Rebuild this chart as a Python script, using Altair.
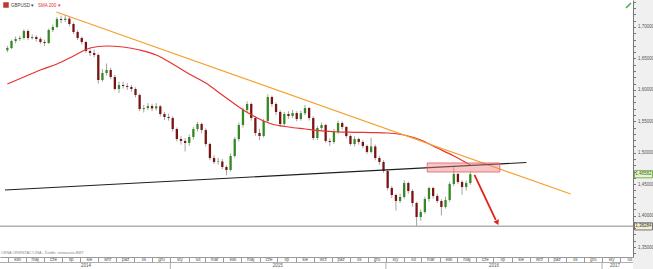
import altair as alt
import pandas as pd

# ---------------- data ----------------
week_start = "2014-03-31"
first_open = 1.6630
closes = [
    1.6666, 1.6777, 1.6809, 1.6825, 1.6936, 1.6825, 1.6841, 1.6809, 1.6761, 1.6745,
    1.6952, 1.7000, 1.7127, 1.7111, 1.7133, 1.7048, 1.6920, 1.6825, 1.6761, 1.6618,
    1.6586, 1.6555, 1.6157, 1.6268, 1.6316, 1.6205, 1.6014, 1.6077, 1.6061, 1.6046,
    1.6014, 1.5918, 1.5696, 1.5711, 1.5743, 1.5705, 1.5738, 1.5616, 1.5568, 1.5552,
    1.5377, 1.5218, 1.5187, 1.5155, 1.5250, 1.5377, 1.5457, 1.5361, 1.5139, 1.4916,
    1.4852, 1.4860, 1.4773, 1.4725, 1.4948, 1.5218, 1.5441, 1.5680, 1.5775, 1.5552,
    1.5314, 1.5266, 1.5505, 1.5886, 1.5775, 1.5648, 1.5457, 1.5616, 1.5584, 1.5632,
    1.5536, 1.5628, 1.5711, 1.5552, 1.5234, 1.5393, 1.5441, 1.5187, 1.5171, 1.5330,
    1.5473, 1.5409, 1.5266, 1.5139, 1.5218, 1.5171, 1.5107, 1.5012, 1.5100, 1.4916,
    1.4852, 1.4709, 1.4439, 1.4327, 1.4232, 1.4296, 1.4518, 1.4391, 1.4200, 1.3977,
    1.4057, 1.4264, 1.4439, 1.4312, 1.4232, 1.4137, 1.4248, 1.4502, 1.4662, 1.4534,
    1.4455, 1.4518, 1.4658,
]
highs = [
    1.6700, 1.6800, 1.6850, 1.6860, 1.6965, 1.6960, 1.6880, 1.6870, 1.6840, 1.6800,
    1.6975, 1.7040, 1.7160, 1.7180, 1.7190, 1.7160, 1.7070, 1.6950, 1.6850, 1.6780,
    1.6660, 1.6640, 1.6580, 1.6330, 1.6420, 1.6350, 1.6240, 1.6130, 1.6130, 1.6110,
    1.6080, 1.6040, 1.5940, 1.5760, 1.5790, 1.5780, 1.5790, 1.5760, 1.5650, 1.5620,
    1.5580, 1.5400, 1.5260, 1.5230, 1.5290, 1.5410, 1.5490, 1.5480, 1.5390, 1.5160,
    1.4960, 1.4920, 1.4900, 1.4800, 1.4990, 1.5250, 1.5480, 1.5720, 1.5815, 1.5800,
    1.5580, 1.5380, 1.5540, 1.5930, 1.5910, 1.5800, 1.5680, 1.5650, 1.5660, 1.5680,
    1.5660, 1.5670, 1.5760, 1.5730, 1.5580, 1.5430, 1.5480, 1.5460, 1.5230, 1.5380,
    1.5510, 1.5500, 1.5430, 1.5290, 1.5260, 1.5240, 1.5200, 1.5130, 1.5240, 1.5130,
    1.4950, 1.4880, 1.4740, 1.4470, 1.4350, 1.4350, 1.4560, 1.4540, 1.4420, 1.4220,
    1.4100, 1.4300, 1.4460, 1.4460, 1.4350, 1.4260, 1.4300, 1.4540, 1.4770, 1.4680,
    1.4560, 1.4560, 1.4700,
]
lows = [
    1.6600, 1.6650, 1.6740, 1.6780, 1.6800, 1.6790, 1.6800, 1.6770, 1.6730, 1.6695,
    1.6730, 1.6920, 1.6980, 1.7060, 1.7080, 1.7010, 1.6890, 1.6790, 1.6720, 1.6590,
    1.6540, 1.6520, 1.6100, 1.6130, 1.6230, 1.6170, 1.5990, 1.5950, 1.6020, 1.6000,
    1.5970, 1.5880, 1.5660, 1.5640, 1.5680, 1.5660, 1.5670, 1.5580, 1.5520, 1.5510,
    1.5340, 1.5180, 1.5130, 1.5020, 1.5110, 1.5210, 1.5340, 1.5310, 1.5100, 1.4880,
    1.4820, 1.4810, 1.4740, 1.4640, 1.4700, 1.4920, 1.5180, 1.5400, 1.5630, 1.5510,
    1.5270, 1.5200, 1.5240, 1.5480, 1.5730, 1.5600, 1.5410, 1.5420, 1.5540, 1.5550,
    1.5500, 1.5510, 1.5600, 1.5510, 1.5200, 1.5200, 1.5360, 1.5160, 1.5110, 1.5140,
    1.5300, 1.5370, 1.5230, 1.5110, 1.5100, 1.5130, 1.5070, 1.4980, 1.4990, 1.4880,
    1.4810, 1.4680, 1.4400, 1.4280, 1.4080, 1.4200, 1.4270, 1.4350, 1.4140, 1.3836,
    1.3920, 1.4030, 1.4220, 1.4270, 1.4200, 1.4000, 1.4110, 1.4220, 1.4470, 1.4500,
    1.4330, 1.4400, 1.4490,
]
sma_200 = [
    1.6093, 1.6205, 1.6316, 1.6411, 1.6539, 1.6666, 1.6698, 1.6682, 1.6634, 1.6555,
    1.6411, 1.6252, 1.6109, 1.5918, 1.5727, 1.5568, 1.5457, 1.5409, 1.5377, 1.5346,
    1.5330, 1.5325, 1.5320, 1.5314, 1.5282, 1.5202, 1.5075, 1.4948, 1.4805,
]
resist_dates = ["2014-06-22", "2016-11-09"]
resist_prices = [1.7239, 1.4343]
support_dates = ["2014-03-27", "2016-08-26"]
support_prices = [1.4407, 1.4844]
low_level = 1.38284
last_price = 1.46582
zone_dates = ["2016-03-11", "2016-07-12"]
zone_prices = [1.4837, 1.4693]
arrow_dates = ["2016-05-30", "2016-07-05"]
arrow_prices = [1.4646, 1.3930]
arrow_tip_date = ["2016-07-07"]
arrow_tip_price = [1.3898]
year_labels = ["2014", "2015", "2016", "2017"]
year_mid_dates = ["2014-08-11", "2015-07-02", "2016-07-02", "2017-01-23"]
year_starts = ["2015-01-01", "2016-01-01", "2017-01-01"]
month_names = ["sty", "lut", "mar", "kwi", "maj", "cze", "lip", "sie", "wrz", "paź", "lis", "gru"]

# ---------------- tables ----------------
dates = pd.date_range(week_start, periods=len(closes), freq="7D")
opens = [first_open] + closes[:-1]
candles = pd.DataFrame({
    "date": dates.strftime("%Y-%m-%d"),
    "open": opens, "close": closes, "high": highs, "low": lows,
})
sma_df = pd.DataFrame({"date": dates[::4].strftime("%Y-%m-%d"), "price": sma_200})
resist_df = pd.DataFrame({"date": resist_dates, "price": resist_prices})
support_df = pd.DataFrame({"date": support_dates, "price": support_prices})
zone_df = pd.DataFrame({"date": [zone_dates[0]], "d2": [zone_dates[1]],
                        "price": [zone_prices[0]], "p2": [zone_prices[1]]})
arrow_df = pd.DataFrame({"date": arrow_dates, "price": arrow_prices})
tip_df = pd.DataFrame({"date": arrow_tip_date, "price": arrow_tip_price})
hline_df = pd.DataFrame({"price": [low_level]})
years_df = pd.DataFrame({"date": year_mid_dates, "label": year_labels})
ystart_df = pd.DataFrame({"date": year_starts})
box_last = pd.DataFrame({"price": [last_price],
                         "label": [f"{last_price:.5f}".replace(".", ",")]})
box_low = pd.DataFrame({"price": [low_level],
                        "label": [f"{low_level:.5f}".replace(".", ",")]})

W, H = 633, 257
xscale = alt.Scale(type="utc",
                   domain=[alt.DateTime(year=2014, month=3, date=27, utc=True),
                           alt.DateTime(year=2017, month=2, date=14, utc=True)])
yscale = alt.Scale(domain=[1.33411, 1.74295], zero=False, nice=False)

month_expr = "[" + ",".join(f"'{m}'" for m in month_names) + "][utcmonth(datum.value)]"
x_axis = alt.Axis(orient="bottom", title=None, grid=False,
                  tickCount={"interval": "month", "step": 1},
                  labelExpr=month_expr, labelAlign="center", labelOffset=9,
                  labelBaseline="middle", labelPadding=-2.5, tickSize=5,
                  tickColor="#9a9a9a", domainColor="#9a9a9a", labelFontSize=4.5,
                  labelColor="#555", labelOverlap=False, labelBound=False,
                  labelFlush=False, zindex=1, labelFont="Liberation Sans")
y_values = [round(1.34 + 0.01 * i, 2) for i in range(41)]
y_axis = alt.Axis(orient="right", title=None, grid=False, values=y_values,
                  labelExpr="(abs(round(datum.value*100)) % 5 == 0) ? replace(format(datum.value, '.5f'), '.', ',') : ''",
                  tickSize=2.5, labelFontSize=4.5, labelPadding=2, labelColor="#555",
                  domainColor="#777", tickColor="#777", labelOverlap=False,
                  labelBound=False, zindex=1, labelFont="Liberation Sans")

X = alt.X("date:T", scale=xscale, axis=x_axis, title=None)
Y = alt.Y("price:Q", scale=yscale, axis=y_axis, title=None)

wicks = alt.Chart(candles).transform_calculate(price="datum.low").mark_rule(
    color="#8c8c8c", strokeWidth=0.8).encode(x=X, y=Y, y2="high:Q")
bodies = alt.Chart(candles).transform_calculate(price="datum.open").mark_bar(width=2.3).encode(
    x=X, y=Y, y2="close:Q",
    color=alt.condition("datum.close >= datum.open", alt.value("#338a22"), alt.value("#7a1414")),
)

one = pd.DataFrame({"a": [0]})
panel = alt.Chart(one).mark_rect(color="#f0f0f0").encode(
    x=alt.value(W), x2=alt.value(653), y=alt.value(0), y2=alt.value(269))
bottom_row = alt.Chart(one).mark_rule(color="#9a9a9a", strokeWidth=0.8).encode(
    x=alt.value(0), x2=alt.value(W), y=alt.value(262.5))
year_sep = alt.Chart(ystart_df).mark_rule(color="#9a9a9a", strokeWidth=0.8).encode(
    x=X, y=alt.value(262.5), y2=alt.value(269))
year_text = alt.Chart(years_df).mark_text(fontSize=4.5, color="#555", font="Liberation Sans").encode(
    x=X, y=alt.value(266), text="label:N")

hline = alt.Chart(hline_df).mark_rule(color="#b0b0b0", strokeWidth=1.5).encode(y=Y)
sma = alt.Chart(sma_df).mark_line(color="#e8332e", strokeWidth=1.2, interpolate="monotone").encode(
    x=X, y=Y)
resist = alt.Chart(resist_df).mark_line(color="#f4a02c", strokeWidth=1.2).encode(x=X, y=Y)
support = alt.Chart(support_df).mark_line(color="#1e1e1e", strokeWidth=1.1).encode(x=X, y=Y)
zone = alt.Chart(zone_df).mark_rect(fill="#f08080", fillOpacity=0.45, stroke="#e06060",
                                    strokeWidth=0.8).encode(x=X, x2="d2:T", y=Y, y2="p2:Q")
arrow = alt.Chart(arrow_df).mark_line(color="#e3201b", strokeWidth=1.8).encode(x=X, y=Y)
tip = alt.Chart(tip_df).mark_point(shape="triangle", angle=154, size=35, filled=True,
                                   color="#e3201b", opacity=1).encode(x=X, y=Y)

box_shape = "M-1,-0.4L1,-0.4L1,0.4L-1,0.4Z"
last_box = alt.Chart(box_last).mark_point(shape=box_shape, size=324, filled=True,
                                          fill="#e7f4d2", stroke="#6a9a3a", strokeWidth=0.8,
                                          opacity=1).encode(x=alt.value(643.5), y=Y)
last_txt = alt.Chart(box_last).mark_text(fontSize=4.5, color="#2f6a10", font="Liberation Sans").encode(
    x=alt.value(643.5), y=Y, text="label:N")
low_box = alt.Chart(box_low).mark_point(shape=box_shape, size=324, filled=True,
                                        fill="#f3efd2", stroke="#555", strokeWidth=0.8,
                                        opacity=1).encode(x=alt.value(643.5), y=Y)
low_txt = alt.Chart(box_low).mark_text(fontSize=4.5, color="#333", font="Liberation Sans").encode(
    x=alt.value(643.5), y=Y, text="label:N")

icon = alt.Chart(one).mark_point(shape="square", size=30, filled=True, color="#c0392b",
                                 opacity=1).encode(x=alt.value(6), y=alt.value(5))
leg1 = alt.Chart(one).mark_text(text="GBPUSD ▾", fontSize=4.5, color="#444", align="left",
                                font="Liberation Sans").encode(x=alt.value(11), y=alt.value(5.5))
leg2 = alt.Chart(one).mark_text(text="SMA 200 ▾", fontSize=4.5, color="#e8332e", align="left",
                                font="Liberation Sans").encode(x=alt.value(38), y=alt.value(5.5))
src = alt.Chart(one).mark_text(text="CENA ORIENTACYJNA - Źródło: notowania BMT", fontSize=3.8,
                               color="#8a8a8a", align="left", font="Liberation Sans").encode(
    x=alt.value(1), y=alt.value(253))
green_icon = alt.Chart(one).mark_rule(color="#4caf50", strokeWidth=1.6).encode(
    x=alt.value(626), x2=alt.value(631), y=alt.value(8), y2=alt.value(3))

chart = alt.layer(
    panel, wicks, bodies, hline, sma, resist, support, zone, arrow, tip,
    last_box, last_txt, low_box, low_txt, bottom_row, year_sep, year_text,
    icon, leg1, leg2, src, green_icon,
).properties(
    width=W, height=H,
    autosize=alt.AutoSizeParams(type="none"),
    padding={"left": 0, "top": 0, "right": 20, "bottom": 12},
    background="white",
).configure_view(strokeWidth=0)

chart.save("out.html", embed_options={"renderer": "svg", "actions": False})
